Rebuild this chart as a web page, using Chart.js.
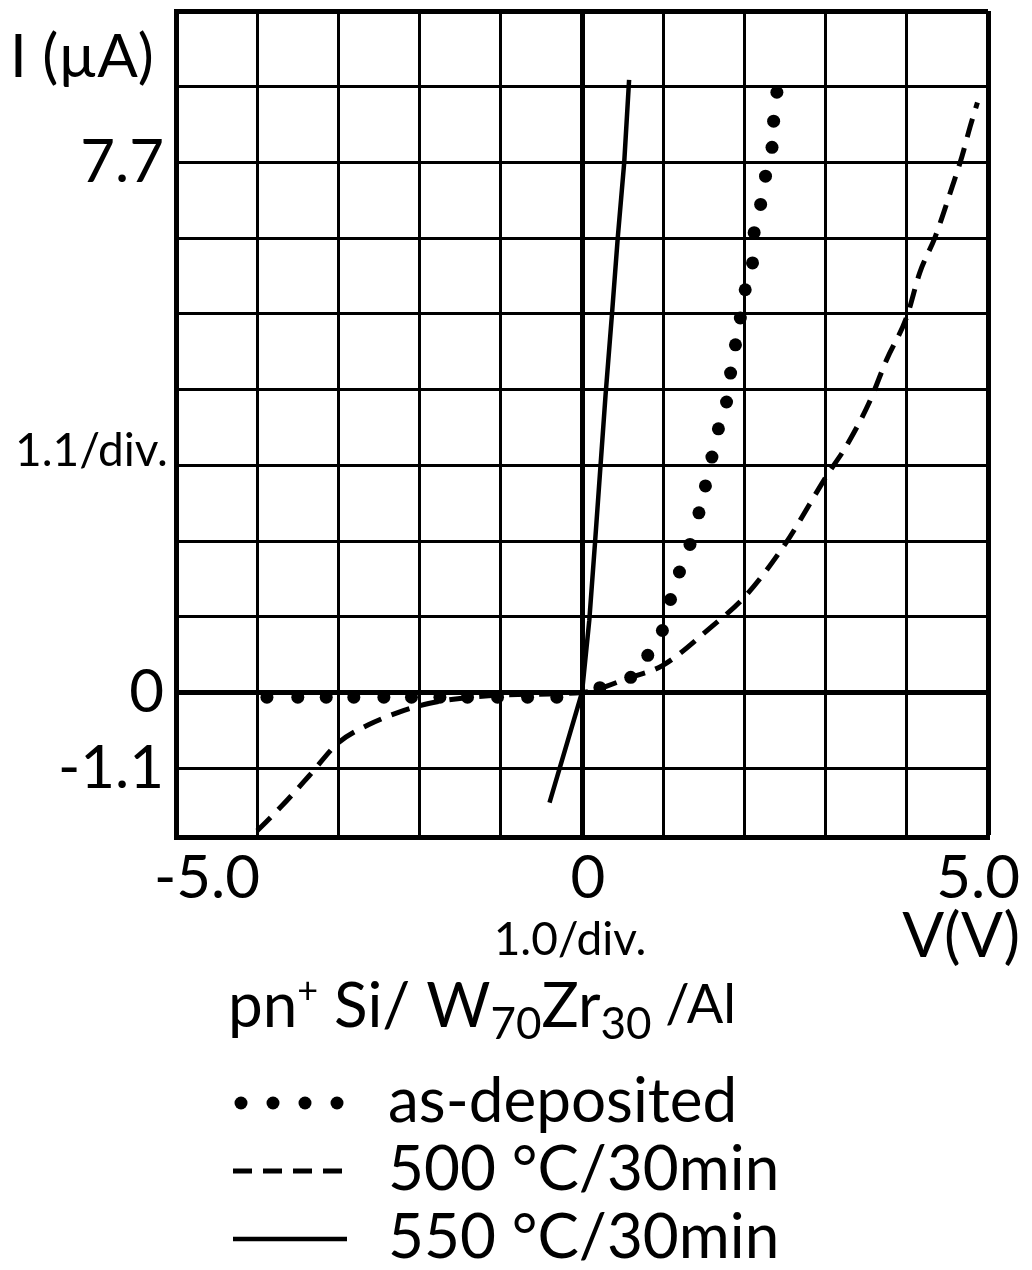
<!DOCTYPE html>
<html>
<head>
<meta charset="utf-8">
<title>I-V characteristics</title>
<script src="https://cdn.jsdelivr.net/npm/chart.js@4.4.1/dist/chart.umd.min.js"></script>
<style>
  html, body { margin: 0; padding: 0; background: #fff; }
  #wrap { width: 1032px; height: 1270px; }
</style>
</head>
<body>
<div id="wrap"><canvas id="ivChart" width="1032" height="1270"></canvas></div>
<script>
// I-V readings, voltage in V, current in uA
const asDepV = [-3.88, -3.50, -3.15, -2.81, -2.44, -2.10, -1.75, -1.41, -1.04, -0.67, -0.31,
  0.22, 0.60, 0.81, 0.99, 1.09, 1.20, 1.33, 1.44, 1.52, 1.60, 1.68, 1.78, 1.83, 1.89,
  1.95, 2.01, 2.10, 2.12, 2.20, 2.26, 2.34, 2.36, 2.40];
const asDepI = [-0.07, -0.07, -0.07, -0.07, -0.07, -0.07, -0.07, -0.07, -0.07, -0.07, -0.07,
  0.07, 0.22, 0.54, 0.90, 1.35, 1.75, 2.15, 2.61, 3.00, 3.42, 3.83, 4.22, 4.64, 5.05,
  5.44, 5.85, 6.24, 6.68, 7.09, 7.50, 7.92, 8.30, 8.72];

const a500V = [-4.00, -3.69, -3.36, -3.00, -2.63, -2.26, -1.89, -1.53, -0.79, 0,
  0.60, 0.99, 1.59, 2.02, 2.51, 3.02, 3.25, 3.54, 3.75, 4.00, 4.16, 4.35, 4.56, 4.68, 4.78, 4.87];
const a500I = [-2.01, -1.64, -1.21, -0.73, -0.47, -0.29, -0.16, -0.09, -0.03, 0,
  0.22, 0.39, 0.95, 1.41, 2.17, 3.16, 3.57, 4.22, 4.83, 5.46, 6.10, 6.62, 7.35, 7.79, 8.22, 8.57];

const a550V = [-0.40, 0, 0.09, 0.16, 0.29, 0.37, 0.44, 0.52, 0.58];
const a550I = [-1.60, 0, 1.05, 2.17, 4.32, 5.51, 6.60, 7.70, 8.90];

const seriesNames = ["as-deposited", "500 °C/30min", "550 °C/30min"];

// 1.0 V/div horizontally, 1.1 uA/div vertically
const xTicks = [-5, -4, -3, -2, -1, 0, 1, 2, 3, 4, 5];
const yTicks = [-1.1, 0, 1.1, 2.2, 3.3, 4.4, 5.5, 6.6, 7.7, 8.8, 9.9];
const xLabelValues = [-5, 0, 5];
const xLabelText = ["-5.0", "0", "5.0"];
const yLabelValues = [-1.1, 0, 7.7];
const yLabelText = ["-1.1", "0", "7.7"];

const FONT = "Lato, 'DejaVu Sans', sans-serif";
const same = (a, b) => Math.abs(a - b) < 1e-6;
const pts = (xs, ys) => xs.map((v, i) => ({ x: v, y: ys[i] }));

// heavy lines for the frame edges and the zero axes
function gridWidth(ctx, edges) {
  const v = ctx.tick ? ctx.tick.value : NaN;
  if (same(v, 0) || edges.some(e => same(v, e))) return 5;
  return 3;
}

// axis captions, x tick labels, sample title and the key
const scopeText = {
  id: "scopeText",
  afterDraw(chart) {
    const { ctx, scales: { x } } = chart;
    const ds = chart.data.datasets;
    ctx.save();
    ctx.fillStyle = "#000";
    ctx.strokeStyle = "#000";
    ctx.textBaseline = "alphabetic";

    // x tick labels
    ctx.font = `60px ${FONT}`;
    xLabelValues.forEach((v, i) => {
      const px = x.getPixelForValue(v);
      if (i === 0) { ctx.textAlign = "left"; ctx.fillText(xLabelText[i], px - 22, 898); }
      else if (i === xLabelValues.length - 1) { ctx.textAlign = "right"; ctx.fillText(xLabelText[i], px + 32, 898); }
      else { ctx.textAlign = "center"; ctx.fillText(xLabelText[i], px + 6, 898); }
    });

    // axis captions
    ctx.textAlign = "left";
    ctx.font = `60px ${FONT}`;
    ctx.fillText("I (µA)", 10, 77);
    ctx.font = `46px ${FONT}`;
    ctx.fillText("1.1/div.", 15, 466);
    ctx.textAlign = "center";
    ctx.fillText("1.0/div.", 570, 955);
    ctx.textAlign = "right";
    ctx.font = `62px ${FONT}`;
    ctx.fillText("V(V)", 1020, 957);

    // sample structure: pn+ Si/W70Zr30/Al
    ctx.textAlign = "left";
    const parts = [
      ["pn", 62, 0], ["+", 36, -24], [" Si/ W", 62, 0], ["70", 44, 12],
      ["Zr", 62, 0], ["30", 44, 12], [" /Al", 54, -4]
    ];
    let tx = 228;
    parts.forEach(([s, size, dy]) => {
      ctx.font = `${size}px ${FONT}`;
      ctx.fillText(s, tx, 1027 + dy);
      tx += ctx.measureText(s).width;
    });

    // key
    const rows = [1122, 1190, 1258];
    ctx.font = `62px ${FONT}`;
    rows.forEach((by, i) => {
      const d = ds[i];
      const my = by - 19;
      if (i === 0) {
        for (let k = 0; k < 4; k++) {
          ctx.beginPath();
          ctx.arc(241 + k * 32, my, d.pointRadius, 0, Math.PI * 2);
          ctx.fill();
        }
      } else {
        ctx.lineWidth = d.borderWidth;
        ctx.setLineDash(d.borderDash || []);
        ctx.beginPath();
        ctx.moveTo(233, my);
        ctx.lineTo(347, my);
        ctx.stroke();
        ctx.setLineDash([]);
      }
      ctx.fillText(seriesNames[i], 388, by);
    });
    ctx.restore();
  }
};

new Chart(document.getElementById("ivChart"), {
  type: "scatter",
  data: {
    datasets: [
      {
        label: seriesNames[0],
        data: pts(asDepV, asDepI),
        showLine: false,
        pointRadius: 6.5,
        pointBackgroundColor: "#000",
        pointBorderWidth: 0
      },
      {
        label: seriesNames[1],
        data: pts(a500V, a500I),
        showLine: true,
        borderColor: "#000",
        borderWidth: 5,
        borderDash: [19, 11],
        cubicInterpolationMode: "monotone",
        pointRadius: 0
      },
      {
        label: seriesNames[2],
        data: pts(a550V, a550I),
        showLine: true,
        borderColor: "#000",
        borderWidth: 4.5,
        tension: 0,
        pointRadius: 0
      }
    ]
  },
  options: {
    responsive: false,
    animation: false,
    devicePixelRatio: 1,
    events: [],
    layout: { padding: { top: 11, right: 44, left: 0, bottom: 0 } },
    plugins: { legend: { display: false }, tooltip: { enabled: false } },
    scales: {
      x: {
        type: "linear",
        min: -5,
        max: 5,
        afterBuildTicks: s => { s.ticks = xTicks.map(v => ({ value: v })); },
        afterFit: s => { s.height = 1270 - 837; s.paddingLeft = 0; s.paddingRight = 0; },
        ticks: { display: false },
        grid: { color: "#000", drawTicks: false, lineWidth: c => gridWidth(c, [5]) },
        border: { display: true, color: "#000", width: 5 }
      },
      y: {
        type: "linear",
        min: -2.1,
        max: 9.9,
        afterBuildTicks: s => { s.ticks = yTicks.map(v => ({ value: v })); },
        afterFit: s => { s.width = 176; s.paddingTop = 0; s.paddingBottom = 0; },
        ticks: {
          autoSkip: false,
          color: "#000",
          padding: 12,
          font: { family: FONT, size: 60 },
          callback: v => {
            const k = yLabelValues.findIndex(t => same(t, v));
            return k < 0 ? "" : yLabelText[k];
          }
        },
        grid: { color: "#000", drawTicks: false, lineWidth: c => gridWidth(c, [9.9]) },
        border: { display: true, color: "#000", width: 5 }
      }
    }
  },
  plugins: [scopeText]
});
</script>
</body>
</html>
